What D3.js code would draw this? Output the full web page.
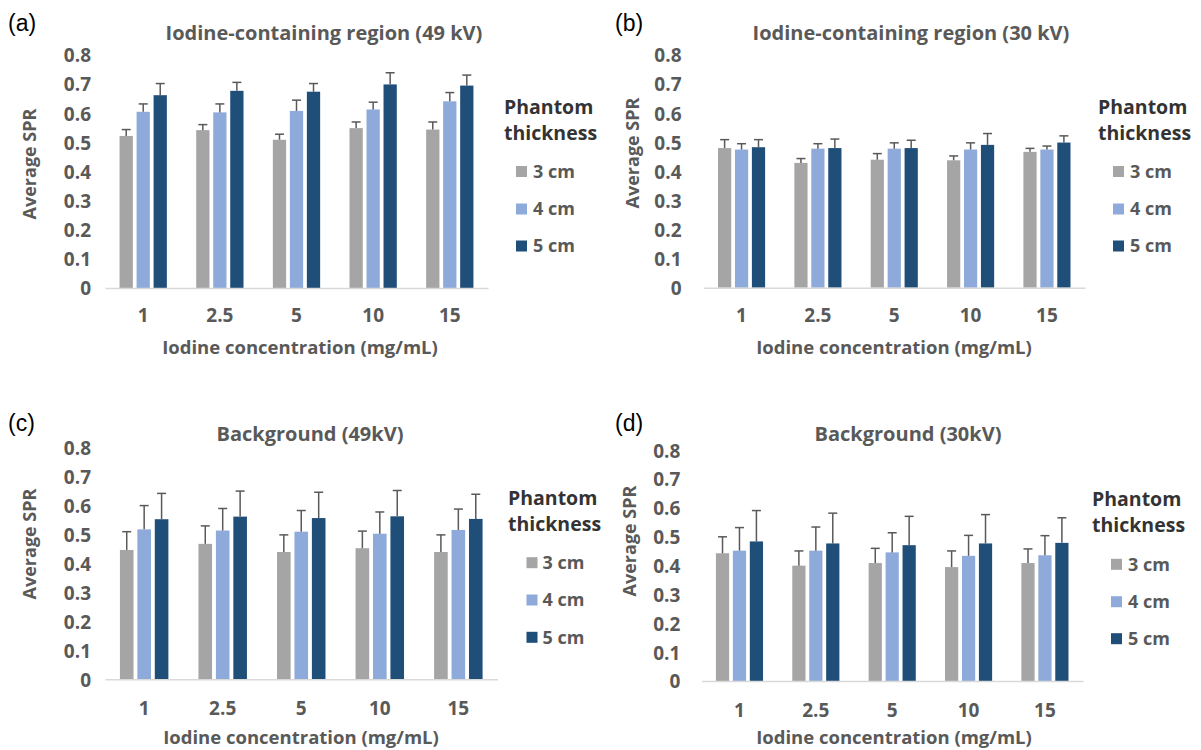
<!DOCTYPE html>
<html lang="en">
<head>
    <meta charset="UTF-8">
    <title>Average SPR</title>
    <script src="https://cdn.jsdelivr.net/npm/d3@7"></script>
    <style>
        body{
            margin: 0;
            background-color: #ffffff;
        }
        svg text{
            font-family: "Open Sans", "Lato", sans-serif;
            font-weight: bold;
        }
        text.panel-label{
            font-family: "Liberation Sans", Arial, sans-serif;
            font-weight: normal;
            font-size: 23px;
            fill: #000000;
        }
    </style>
</head>
<body>
<div id="chart"></div>
<script>
    var WIDTH = 1201;
    var HEIGHT = 750;

    var CONCENTRATIONS = ["1", "2.5", "5", "10", "15"];
    var THICKNESSES = ["3 cm", "4 cm", "5 cm"];
    var Y_TICKS = [0, 0.1, 0.2, 0.3, 0.4, 0.5, 0.6, 0.7, 0.8];
    var Y_TICK_LABELS = ["0", "0.1", "0.2", "0.3", "0.4", "0.5", "0.6", "0.7", "0.8"];
    var COLORS = ["#a5a5a5", "#8eaadb", "#1f4e79"];

    // rows = phantom thickness (3, 4, 5 cm), columns = iodine concentration
    var IODINE_49KV_MEAN = [
        [0.522, 0.542, 0.509, 0.549, 0.544],
        [0.605, 0.603, 0.608, 0.613, 0.641],
        [0.662, 0.677, 0.674, 0.699, 0.695]
    ];
    var IODINE_49KV_ERR = [
        [0.022, 0.019, 0.019, 0.021, 0.026],
        [0.027, 0.029, 0.037, 0.025, 0.030],
        [0.040, 0.029, 0.028, 0.040, 0.036]
    ];
    var IODINE_30KV_MEAN = [
        [0.480, 0.429, 0.440, 0.438, 0.467],
        [0.475, 0.478, 0.478, 0.475, 0.475],
        [0.483, 0.480, 0.480, 0.491, 0.499]
    ];
    var IODINE_30KV_ERR = [
        [0.029, 0.015, 0.021, 0.015, 0.012],
        [0.020, 0.017, 0.020, 0.023, 0.012],
        [0.026, 0.031, 0.027, 0.039, 0.023]
    ];
    var BKG_49KV_MEAN = [
        [0.446, 0.467, 0.439, 0.452, 0.439],
        [0.517, 0.513, 0.509, 0.502, 0.515],
        [0.552, 0.561, 0.556, 0.562, 0.553]
    ];
    var BKG_49KV_ERR = [
        [0.063, 0.062, 0.059, 0.059, 0.059],
        [0.082, 0.076, 0.073, 0.075, 0.072],
        [0.089, 0.088, 0.089, 0.089, 0.085]
    ];
    var BKG_30KV_MEAN = [
        [0.443, 0.400, 0.409, 0.395, 0.409],
        [0.452, 0.452, 0.446, 0.434, 0.436],
        [0.484, 0.477, 0.471, 0.477, 0.479]
    ];
    var BKG_30KV_ERR = [
        [0.057, 0.051, 0.051, 0.056, 0.049],
        [0.080, 0.082, 0.068, 0.071, 0.068],
        [0.107, 0.105, 0.100, 0.100, 0.087]
    ];

    var TEXT_COLOR = "#595959";
    var LEGEND_TITLE_COLOR = "#333333";
    var AXIS_COLOR = "#d9d9d9";
    var ERR_COLOR = "#595959";

    var panels = [
        {label: "(a)", lx: 8, ly: 23, title: "Iodine-containing region (49 kV)", tx: 324, ty: 33,
         left: 105, right: 488, y0: 288, y8: 55, yTickX: 91, yTitleX: 30, yTitleY: 164,
         xTickY: 316, xTitleX: 300, xTitleY: 348,
         legX: 504, legTitleY: 107, legSqX: 516, legTextX: 533, legY: [171.5, 209, 246],
         mean: IODINE_49KV_MEAN, err: IODINE_49KV_ERR},
        {label: "(b)", lx: 615, ly: 23, title: "Iodine-containing region (30 kV)", tx: 911, ty: 33,
         left: 703.5, right: 1085, y0: 287.7, y8: 55, yTickX: 681.5, yTitleX: 633, yTitleY: 153,
         xTickY: 316, xTitleX: 894, xTitleY: 348,
         legX: 1098, legTitleY: 107, legSqX: 1113, legTextX: 1130, legY: [171.5, 209, 246],
         mean: IODINE_30KV_MEAN, err: IODINE_30KV_ERR},
        {label: "(c)", lx: 8, ly: 423, title: "Background (49kV)", tx: 310, ty: 434,
         left: 105, right: 497.5, y0: 679.3, y8: 447.3, yTickX: 91, yTitleX: 30, yTitleY: 544,
         xTickY: 709, xTitleX: 301, xTitleY: 738,
         legX: 508, legTitleY: 498, legSqX: 526.5, legTextX: 542.5, legY: [562.7, 600, 637.3],
         mean: BKG_49KV_MEAN, err: BKG_49KV_ERR},
        {label: "(d)", lx: 615, ly: 423, title: "Background (30kV)", tx: 908, ty: 434,
         left: 701.4, right: 1083, y0: 681, y8: 450.3, yTickX: 680.4, yTitleX: 630, yTitleY: 541,
         xTickY: 710.7, xTitleX: 894, xTitleY: 738,
         legX: 1092, legTitleY: 499, legSqX: 1111, legTextX: 1128, legY: [564.3, 601.7, 638.7],
         mean: BKG_30KV_MEAN, err: BKG_30KV_ERR}
    ];

    var svg = d3.select("#chart").append("svg")
        .attr("width", WIDTH)
        .attr("height", HEIGHT)
        .style("background", "#ffffff");

    panels.forEach(drawPanel);

    function drawPanel(p){
        var g = svg.append("g");

        var x0 = d3.scaleBand()
            .domain(CONCENTRATIONS)
            .range([p.left, p.right])
            .paddingInner(0.383)
            .paddingOuter(0.19);

        var x1 = d3.scaleBand()
            .domain(THICKNESSES)
            .range([0, x0.bandwidth()])
            .paddingInner(0.22);

        var y = d3.scaleLinear()
            .domain([0, 0.8])
            .range([p.y0, p.y8]);

        // y axis labels only, no line
        var yAxis = g.append("g")
            .attr("transform", "translate(" + p.left + ",0)")
            .call(d3.axisLeft(y)
                .tickValues(Y_TICKS)
                .tickFormat(function(d, i){ return Y_TICK_LABELS[i]; })
                .tickSize(0)
                .tickPadding(p.left - p.yTickX));
        yAxis.select(".domain").remove();
        yAxis.selectAll("text")
            .attr("dy", "0.36em")
            .style("font-family", "'Open Sans', sans-serif")
            .style("font-weight", "bold")
            .style("font-size", "19px")
            .style("fill", TEXT_COLOR);

        // bars
        THICKNESSES.forEach(function(t, si){
            var rows = CONCENTRATIONS.map(function(c, ci){
                return {c: c, v: p.mean[si][ci], e: p.err[si][ci]};
            });

            g.selectAll("rect.s" + si).data(rows).enter()
                .append("rect")
                .attr("class", "s" + si)
                .attr("x", function(d){ return x0(d.c) + x1(t); })
                .attr("width", x1.bandwidth())
                .attr("y", function(d){ return y(d.v); })
                .attr("height", function(d){ return y(0) - y(d.v); })
                .style("fill", COLORS[si]);

            var eb = g.selectAll("g.e" + si).data(rows).enter()
                .append("g")
                .attr("class", "e" + si)
                .attr("transform", function(d){
                    return "translate(" + (x0(d.c) + x1(t) + x1.bandwidth() / 2) + ",0)";
                });
            eb.append("line")
                .attr("x1", 0).attr("x2", 0)
                .attr("y1", function(d){ return y(d.v); })
                .attr("y2", function(d){ return y(d.v + d.e); })
                .style("stroke", ERR_COLOR)
                .style("stroke-width", 1.5);
            eb.append("line")
                .attr("x1", -4.5).attr("x2", 4.5)
                .attr("y1", function(d){ return y(d.v + d.e); })
                .attr("y2", function(d){ return y(d.v + d.e); })
                .style("stroke", ERR_COLOR)
                .style("stroke-width", 1.5);
        });

        // x axis
        var xAxis = g.append("g")
            .attr("transform", "translate(0," + p.y0 + ")")
            .call(d3.axisBottom(x0).tickSize(0).tickPadding(p.xTickY - p.y0 - 7));
        xAxis.select(".domain")
            .style("stroke", AXIS_COLOR)
            .style("stroke-width", 1.5);
        xAxis.selectAll("text")
            .style("font-family", "'Open Sans', sans-serif")
            .style("font-weight", "bold")
            .style("font-size", "19px")
            .style("fill", TEXT_COLOR);

        // titles
        g.append("text")
            .attr("class", "panel-label")
            .attr("x", p.lx)
            .attr("y", p.ly)
            .attr("dy", "0.35em")
            .text(p.label);

        g.append("text")
            .attr("x", p.tx)
            .attr("y", p.ty)
            .attr("dy", "0.35em")
            .attr("text-anchor", "middle")
            .style("font-size", "20px")
            .style("fill", TEXT_COLOR)
            .text(p.title);

        g.append("text")
            .attr("transform", "translate(" + p.yTitleX + "," + p.yTitleY + ") rotate(-90)")
            .attr("dy", "0.35em")
            .attr("text-anchor", "middle")
            .style("font-size", "18px")
            .style("fill", TEXT_COLOR)
            .text("Average SPR");

        g.append("text")
            .attr("x", p.xTitleX)
            .attr("y", p.xTitleY)
            .attr("dy", "0.35em")
            .attr("text-anchor", "middle")
            .style("font-size", "18.5px")
            .style("fill", TEXT_COLOR)
            .text("Iodine concentration (mg/mL)");

        // legend
        g.append("text")
            .attr("x", p.legX)
            .attr("y", p.legTitleY)
            .attr("dy", "0.35em")
            .style("font-size", "19.5px")
            .style("fill", LEGEND_TITLE_COLOR)
            .text("Phantom");
        g.append("text")
            .attr("x", p.legX)
            .attr("y", p.legTitleY + 26)
            .attr("dy", "0.35em")
            .style("font-size", "19.5px")
            .style("fill", LEGEND_TITLE_COLOR)
            .text("thickness");

        THICKNESSES.forEach(function(t, si){
            g.append("rect")
                .attr("x", p.legSqX)
                .attr("y", p.legY[si] - 5.5)
                .attr("width", 11)
                .attr("height", 11)
                .style("fill", COLORS[si]);
            g.append("text")
                .attr("x", p.legTextX)
                .attr("y", p.legY[si])
                .attr("dy", "0.36em")
                .style("font-size", "18px")
                .style("fill", TEXT_COLOR)
                .text(t);
        });
    }
</script>
</body>
</html>
